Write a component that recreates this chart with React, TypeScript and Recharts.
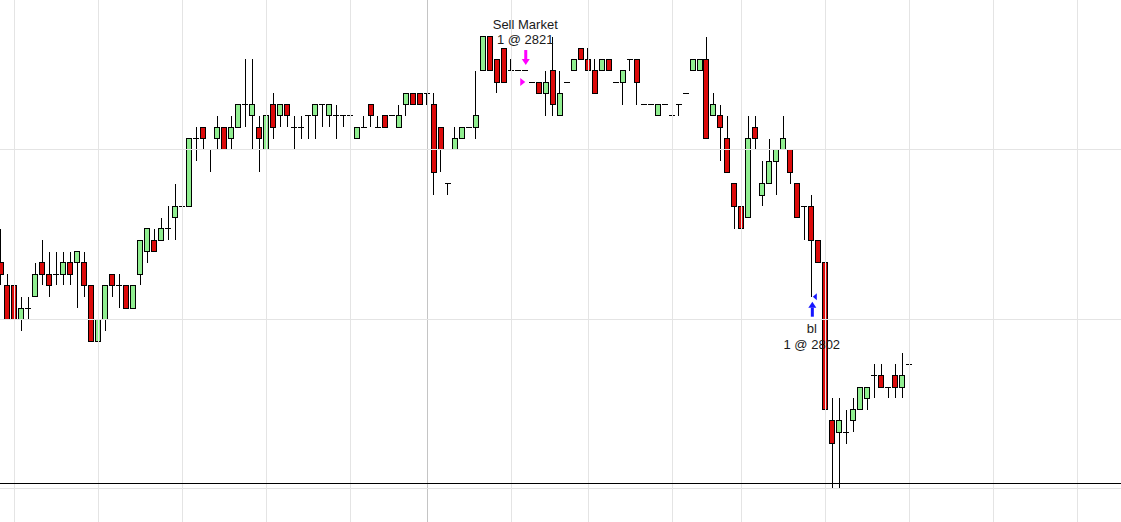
import React from 'react';
import { ComposedChart, Bar, XAxis, YAxis, ReferenceLine, ReferenceDot } from 'recharts';

// OHLC per bar (oldest first)
const opens = [
  2805, 2803, 2803, 2800, 2801, 2802, 2805, 2804, 2804, 2804,
  2805, 2805, 2805, 2803, 2798, 2800, 2804, 2803, 2803, 2801,
  2804, 2806, 2807, 2807, 2808, 2809, 2810, 2810, 2816, 2817,
  2815, 2816, 2817, 2816, 2817, 2819, 2818, 2817, 2815, 2819,
  2818, 2819, 2817, 2817, 2818, 2818, 2819, 2818, 2818, 2818,
  2818, 2816, 2817, 2819, 2817, 2818, 2818, 2817, 2819, 2820,
  2820, 2820, 2819, 2817, 2812, 2815, 2816, 2817, 2817, 2822,
  2825, 2823, 2824, 2822, 2822, 2822, 2821, 2821, 2820, 2822,
  2818, 2821, 2822, 2824, 2823, 2822, 2822, 2823, 2821, 2821,
  2823, 2823, 2819, 2819, 2818, 2819, 2818, 2819, 2820, 2822,
  2822, 2823, 2818, 2818, 2816, 2812, 2810, 2809, 2817, 2811,
  2812, 2814, 2815, 2815, 2812, 2810, 2810, 2807, 2805, 2791,
  2790, 2790, 2791, 2792, 2793, 2795, 2795, 2794, 2795, 2794,
  2796,
];
const highs = [
  2808, 2804, 2803, 2802, 2802, 2805, 2807, 2806, 2806, 2806,
  2806, 2806, 2806, 2803, 2801, 2803, 2804, 2804, 2803, 2803,
  2807, 2808, 2808, 2809, 2810, 2812, 2812, 2816, 2817, 2817,
  2815, 2818, 2817, 2818, 2819, 2823, 2823, 2818, 2818, 2820,
  2819, 2819, 2818, 2818, 2818, 2819, 2819, 2819, 2819, 2818,
  2818, 2817, 2818, 2819, 2818, 2818, 2818, 2819, 2820, 2820,
  2820, 2820, 2820, 2817, 2812, 2817, 2817, 2817, 2822, 2825,
  2825, 2823, 2824, 2823, 2822, 2822, 2821, 2821, 2822, 2825,
  2822, 2821, 2823, 2824, 2824, 2823, 2823, 2823, 2821, 2822,
  2823, 2823, 2819, 2819, 2819, 2819, 2818, 2819, 2820, 2823,
  2823, 2825, 2820, 2819, 2818, 2812, 2811, 2818, 2818, 2814,
  2816, 2815, 2818, 2815, 2812, 2810, 2811, 2807, 2809, 2793,
  2793, 2792, 2793, 2794, 2794, 2796, 2796, 2794, 2796, 2797,
  2796,
];
const lows = [
  2803, 2800, 2800, 2799, 2800, 2802, 2803, 2802, 2803, 2803,
  2803, 2801, 2802, 2798, 2797, 2799, 2802, 2801, 2801, 2801,
  2803, 2805, 2806, 2807, 2807, 2807, 2809, 2810, 2814, 2815,
  2813, 2815, 2815, 2815, 2817, 2817, 2815, 2813, 2815, 2816,
  2817, 2817, 2815, 2816, 2816, 2816, 2817, 2817, 2816, 2817,
  2816, 2816, 2817, 2817, 2817, 2817, 2818, 2817, 2818, 2819,
  2819, 2819, 2811, 2813, 2811, 2815, 2816, 2817, 2816, 2822,
  2822, 2820, 2821, 2822, 2822, 2822, 2821, 2820, 2818, 2818,
  2818, 2821, 2822, 2823, 2822, 2820, 2822, 2822, 2821, 2819,
  2822, 2819, 2819, 2819, 2818, 2819, 2818, 2818, 2820, 2822,
  2822, 2816, 2818, 2814, 2813, 2808, 2807, 2809, 2815, 2810,
  2812, 2811, 2815, 2812, 2809, 2807, 2802, 2805, 2789, 2785,
  2785, 2789, 2790, 2792, 2792, 2793, 2794, 2793, 2793, 2793,
  2796,
];
const closes = [
  2804, 2800, 2800, 2801, 2801, 2804, 2804, 2803, 2804, 2805,
  2804, 2806, 2803, 2798, 2800, 2803, 2803, 2803, 2801, 2803,
  2807, 2808, 2806, 2808, 2808, 2810, 2810, 2816, 2816, 2816,
  2815, 2817, 2815, 2817, 2819, 2819, 2819, 2816, 2818, 2817,
  2819, 2818, 2817, 2817, 2818, 2819, 2819, 2819, 2818, 2818,
  2818, 2817, 2817, 2818, 2817, 2817, 2818, 2818, 2820, 2819,
  2819, 2820, 2813, 2815, 2812, 2816, 2817, 2817, 2818, 2825,
  2822, 2821, 2821, 2822, 2822, 2822, 2821, 2820, 2821, 2819,
  2820, 2821, 2823, 2823, 2822, 2820, 2823, 2822, 2821, 2822,
  2823, 2821, 2819, 2819, 2819, 2819, 2818, 2819, 2820, 2823,
  2823, 2816, 2819, 2817, 2813, 2810, 2808, 2816, 2816, 2812,
  2814, 2815, 2816, 2813, 2809, 2810, 2807, 2805, 2792, 2789,
  2791, 2790, 2792, 2794, 2794, 2795, 2794, 2794, 2794, 2795,
  2796,
];

const priceGrid = [2785, 2800, 2815];
const timeGrid = [2, 14, 26, 38, 50, 73, 84, 96, 106, 118, 130, 142, 154];
const sessionBreak = 61;
const userLine = 2785.5;

const sellBar = 75;
const sellPrice = 2821;
const sellLabel = ['Sell Market', '1 @ 2821'];
const buyBar = 116;
const buyPrice = 2802;
const buyLabel = ['bl', '1 @ 2802'];

const data = opens.map((open, i) => ({
  i,
  open,
  high: highs[i],
  low: lows[i],
  close: closes[i],
  range: [lows[i], highs[i]],
}));

const UP = '#90ee90';
const DOWN = '#dc0a0a';
const FONT = '"Liberation Sans", Arial, sans-serif';

const Candle = (props: any) => {
  const { x, y, width, height, payload } = props;
  if (x == null || y == null || !payload) return null;
  const { open, close, high, low } = payload;
  const cx = x + width / 2;
  const unit = high > low ? height / (high - low) : 0;
  const py = (p: number) => y + (high - p) * unit;
  const top = py(Math.max(open, close));
  const bottom = py(Math.min(open, close));
  return (
    <g shapeRendering="crispEdges">
      {high > low && <line x1={cx} x2={cx} y1={y} y2={y + height} stroke="#000" />}
      {open === close ? (
        <line x1={cx - 3} x2={cx + 3} y1={top} y2={top} stroke="#000" />
      ) : (
        <rect
          x={cx - 2.5}
          y={top}
          width={5}
          height={bottom - top}
          fill={close > open ? UP : DOWN}
          stroke="#000"
        />
      )}
    </g>
  );
};

const SellMarker = (props: any) => {
  const { cx, cy } = props;
  return (
    <g>
      <polygon points={`${cx - 5},${cy - 4} ${cx},${cy} ${cx - 5},${cy + 4}`} fill="#ff00ff" />
      <rect x={cx - 1} y={cy - 32} width={3} height={9} fill="#ff00ff" />
      <polygon points={`${cx - 3.5},${cy - 23} ${cx + 4.5},${cy - 23} ${cx + 0.5},${cy - 17}`} fill="#ff00ff" />
      <text x={cx} y={cy - 53} textAnchor="middle" fontFamily={FONT} fontSize={13} fill="#1a1a1a">
        {sellLabel[0]}
      </text>
      <text x={cx} y={cy - 38} textAnchor="middle" fontFamily={FONT} fontSize={13} fill="#1a1a1a">
        {sellLabel[1]}
      </text>
    </g>
  );
};

const BuyMarker = (props: any) => {
  const { cx, cy } = props;
  return (
    <g>
      <polygon points={`${cx + 5},${cy - 3.5} ${cx + 1},${cy} ${cx + 5},${cy + 3.5}`} fill="#1515ff" />
      <polygon points={`${cx + 0.5},${cy + 5} ${cx + 4.5},${cy + 11} ${cx - 3.5},${cy + 11}`} fill="#1515ff" />
      <rect x={cx - 1} y={cy + 11} width={3} height={9} fill="#1515ff" />
      <text x={cx} y={cy + 36} textAnchor="middle" fontFamily={FONT} fontSize={13} fill="#1a1a1a">
        {buyLabel[0]}
      </text>
      <text x={cx} y={cy + 52} textAnchor="middle" fontFamily={FONT} fontSize={13} fill="#1a1a1a">
        {buyLabel[1]}
      </text>
    </g>
  );
};

export default function App() {
  return (
    <div style={{ position: 'absolute', left: 0, top: 0, width: 1121, height: 522, background: '#fff' }}>
      <ComposedChart width={1121} height={522} data={data} margin={{ top: 0, right: 0, bottom: 0, left: 0 }}>
        <XAxis dataKey="i" type="number" domain={[-0.143, 160.23]} allowDataOverflow hide />
        <YAxis type="number" domain={[2782.06, 2828.26]} allowDataOverflow hide />
        {timeGrid.map((t) => (
          <ReferenceLine key={`t${t}`} x={t} stroke="#e4e4e4" strokeWidth={1} shapeRendering="crispEdges" />
        ))}
        <ReferenceLine x={sessionBreak} stroke="#c4c4c4" strokeWidth={1} shapeRendering="crispEdges" />
        {priceGrid.map((p) => (
          <ReferenceLine key={`p${p}`} y={p} stroke="#e4e4e4" strokeWidth={1} shapeRendering="crispEdges" />
        ))}
        <ReferenceLine y={userLine} stroke="#000" strokeWidth={1} shapeRendering="crispEdges" />
        <Bar dataKey="range" barSize={6} shape={Candle} isAnimationActive={false} />
        <ReferenceDot x={sellBar} y={sellPrice} shape={SellMarker} />
        <ReferenceDot x={buyBar} y={buyPrice} shape={BuyMarker} />
      </ComposedChart>
    </div>
  );
}
